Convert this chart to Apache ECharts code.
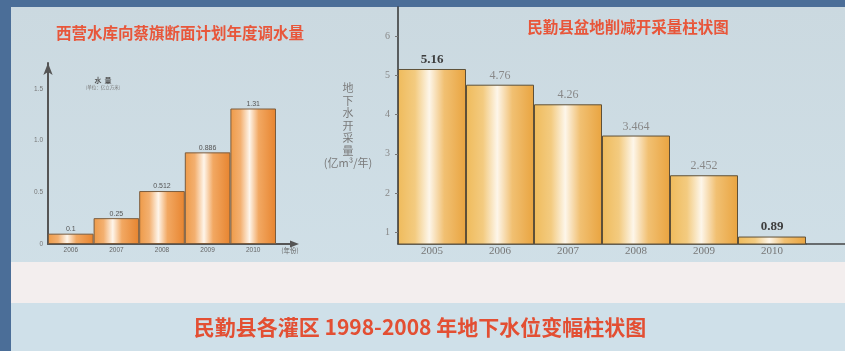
<!DOCTYPE html>
<html>
<head>
<meta charset="utf-8">
<script src="https://cdn.jsdelivr.net/npm/echarts@6/dist/echarts.min.js"></script>
<style>
  html, body { margin: 0; padding: 0; background: #4b6e98; }
  #c { width: 845px; height: 351px; }
</style>
</head>
<body>
<div id="c"></div>
<script>
// Planned annual water transfer, Xiying reservoir -> Caiqi section (100 million m³)
const planYears = ['2006', '2007', '2008', '2009', '2010'];
const planVolume = [0.1, 0.25, 0.512, 0.886, 1.31];
const planTicks = [0, 0.5, 1.0, 1.5];

// Minqin basin groundwater extraction after cuts (100 million m³ / year)
const cutYears = ['2005', '2006', '2007', '2008', '2009', '2010'];
const cutVolume = [5.16, 4.76, 4.26, 3.464, 2.452, 0.89];
const cutTicks = [1, 2, 3, 4, 5, 6];
const cutBoldYears = ['2005', '2010'];

const CJK = '"Noto Sans CJK SC", "Noto Sans", sans-serif';
const SERIF = '"Liberation Serif", "DejaVu Serif", serif';

const planFill = new echarts.graphic.LinearGradient(0, 0, 1, 0, [
  { offset: 0, color: '#ee9a48' },
  { offset: 0.22, color: '#f3b070' },
  { offset: 0.42, color: '#fef5ea' },
  { offset: 0.62, color: '#f2a862' },
  { offset: 1, color: '#e7842f' }
]);
const cutFill = new echarts.graphic.LinearGradient(0, 0, 1, 0, [
  { offset: 0, color: '#efbb5c' },
  { offset: 0.25, color: '#f3cb80' },
  { offset: 0.46, color: '#fdf6ea' },
  { offset: 0.68, color: '#f1c072' },
  { offset: 1, color: '#e9a440' }
]);

const chart = echarts.init(document.getElementById('c'), null, { renderer: 'canvas' });

chart.setOption({
  backgroundColor: 'transparent',
  animation: false,
  graphic: [
    // poster board
    { type: 'rect', z: -10, shape: { x: 11, y: 7, width: 834, height: 344 },
      style: { fill: new echarts.graphic.LinearGradient(0, 0, 0, 1, [
        { offset: 0, color: '#cbd9e0' }, { offset: 1, color: '#d1e1e9' }]) } },
    { type: 'rect', z: -9, shape: { x: 11, y: 262, width: 834, height: 41 },
      style: { fill: '#f3eeee' } },
    { type: 'rect', z: -9, shape: { x: 11, y: 303, width: 834, height: 48 },
      style: { fill: '#cfe0e9' } },
    // headings
    { type: 'text', z: 10, style: { x: 180, y: 33, text: '西营水库向蔡旗断面计划年度调水量',
      textAlign: 'center', textVerticalAlign: 'middle', fill: '#e8563a',
      font: 'bold 15.5px ' + CJK } },
    { type: 'text', z: 10, style: { x: 628, y: 27, text: '民勤县盆地削减开采量柱状图',
      textAlign: 'center', textVerticalAlign: 'middle', fill: '#e8563a',
      font: 'bold 15.5px ' + CJK } },
    { type: 'text', z: 10, style: { x: 420, y: 327, text: '民勤县各灌区 1998-2008 年地下水位变幅柱状图',
      textAlign: 'center', textVerticalAlign: 'middle', fill: '#e34f33',
      font: 'bold 21px ' + CJK } },
    // left chart quantity note
    { type: 'text', z: 10, style: { x: 103, y: 80, text: '水  量',
      textAlign: 'center', textVerticalAlign: 'middle', fill: '#555',
      font: 'bold 7px ' + CJK } },
    { type: 'text', z: 10, style: { x: 103, y: 87, text: '(单位：亿立方米)',
      textAlign: 'center', textVerticalAlign: 'middle', fill: '#777',
      font: '4.5px ' + CJK } },
    // left x-axis name under the arrow
    { type: 'text', z: 10, style: { x: 290, y: 251, text: '(年份)',
      textAlign: 'center', textVerticalAlign: 'middle', fill: '#666',
      font: '6.5px ' + CJK } },
    // left x-axis continues past the last bar and ends in an arrow
    { type: 'line', z: 10, shape: { x1: 276, y1: 244, x2: 292, y2: 244 },
      style: { stroke: '#555', lineWidth: 2 } },
    { type: 'polygon', z: 10, shape: { points: [[290, 240.5], [299, 244], [290, 247.5]] },
      style: { fill: '#555' } },
    // right x-axis runs on to the board edge
    { type: 'line', z: 10, shape: { x1: 806, y1: 244, x2: 845, y2: 244 },
      style: { stroke: '#444', lineWidth: 1.5 } }
  ],
  grid: [
    { left: 48, top: 63, width: 228, height: 181 },
    { left: 398, top: 7, width: 408, height: 237 }
  ],
  xAxis: [
    {
      gridIndex: 0, type: 'category', data: planYears,
      axisLine: { lineStyle: { color: '#555', width: 2 } },
      axisTick: { show: false },
      axisLabel: { fontSize: 6.5, color: '#666', margin: 3, fontFamily: 'sans-serif' }
    },
    {
      gridIndex: 1, type: 'category', data: cutYears,
      axisLine: { lineStyle: { color: '#444', width: 1.5 } },
      axisTick: { show: false },
      axisLabel: { fontSize: 11, color: '#777', margin: 2, fontFamily: SERIF }
    }
  ],
  yAxis: [
    {
      gridIndex: 0, type: 'value', min: 0, max: 1.75,
      axisLine: { show: true, lineStyle: { color: '#555', width: 2 },
        symbol: ['none', 'arrow'], symbolSize: [7, 12] },
      axisTick: { show: false },
      splitLine: { show: false },
      axisLabel: { customValues: planTicks, fontSize: 6.5, color: '#777', margin: 5,
        formatter: v => (v === 0 ? '0' : v.toFixed(1)) }
    },
    {
      gridIndex: 1, type: 'value', min: 0.7, max: 6.74,
      axisLine: { show: true, lineStyle: { color: '#333', width: 1.5 } },
      axisTick: { show: true, customValues: cutTicks, length: 3, lineStyle: { color: '#777' } },
      splitLine: { show: false },
      axisLabel: { customValues: cutTicks, fontSize: 10, color: '#888', margin: 8, fontFamily: SERIF },
      name: '地\n下\n水\n开\n采\n量\n(亿m³/年)', nameLocation: 'middle', nameRotate: 0, nameGap: 50,
      nameTextStyle: { fontSize: 11, lineHeight: 12.5, color: '#7a7a7a', fontFamily: CJK, align: 'center' }
    }
  ],
  series: [
    {
      type: 'bar', xAxisIndex: 0, yAxisIndex: 0, data: planVolume,
      barCategoryGap: '0%',
      itemStyle: { color: planFill, borderColor: '#7a5c3e', borderWidth: 1 },
      label: { show: true, position: 'top', distance: 1, fontSize: 7, color: '#555' }
    },
    {
      type: 'bar', xAxisIndex: 1, yAxisIndex: 1,
      data: cutVolume.map((v, i) => {
        const bold = cutBoldYears.includes(cutYears[i]);
        return bold
          ? { value: v, label: { fontWeight: 'bold', fontSize: 13, color: '#3d3d3d' } }
          : v;
      }),
      barCategoryGap: '0%',
      itemStyle: { color: cutFill, borderColor: '#5e5038', borderWidth: 1 },
      label: { show: true, position: 'top', distance: 3, fontSize: 12, color: '#888', fontFamily: SERIF }
    }
  ]
});
</script>
</body>
</html>
